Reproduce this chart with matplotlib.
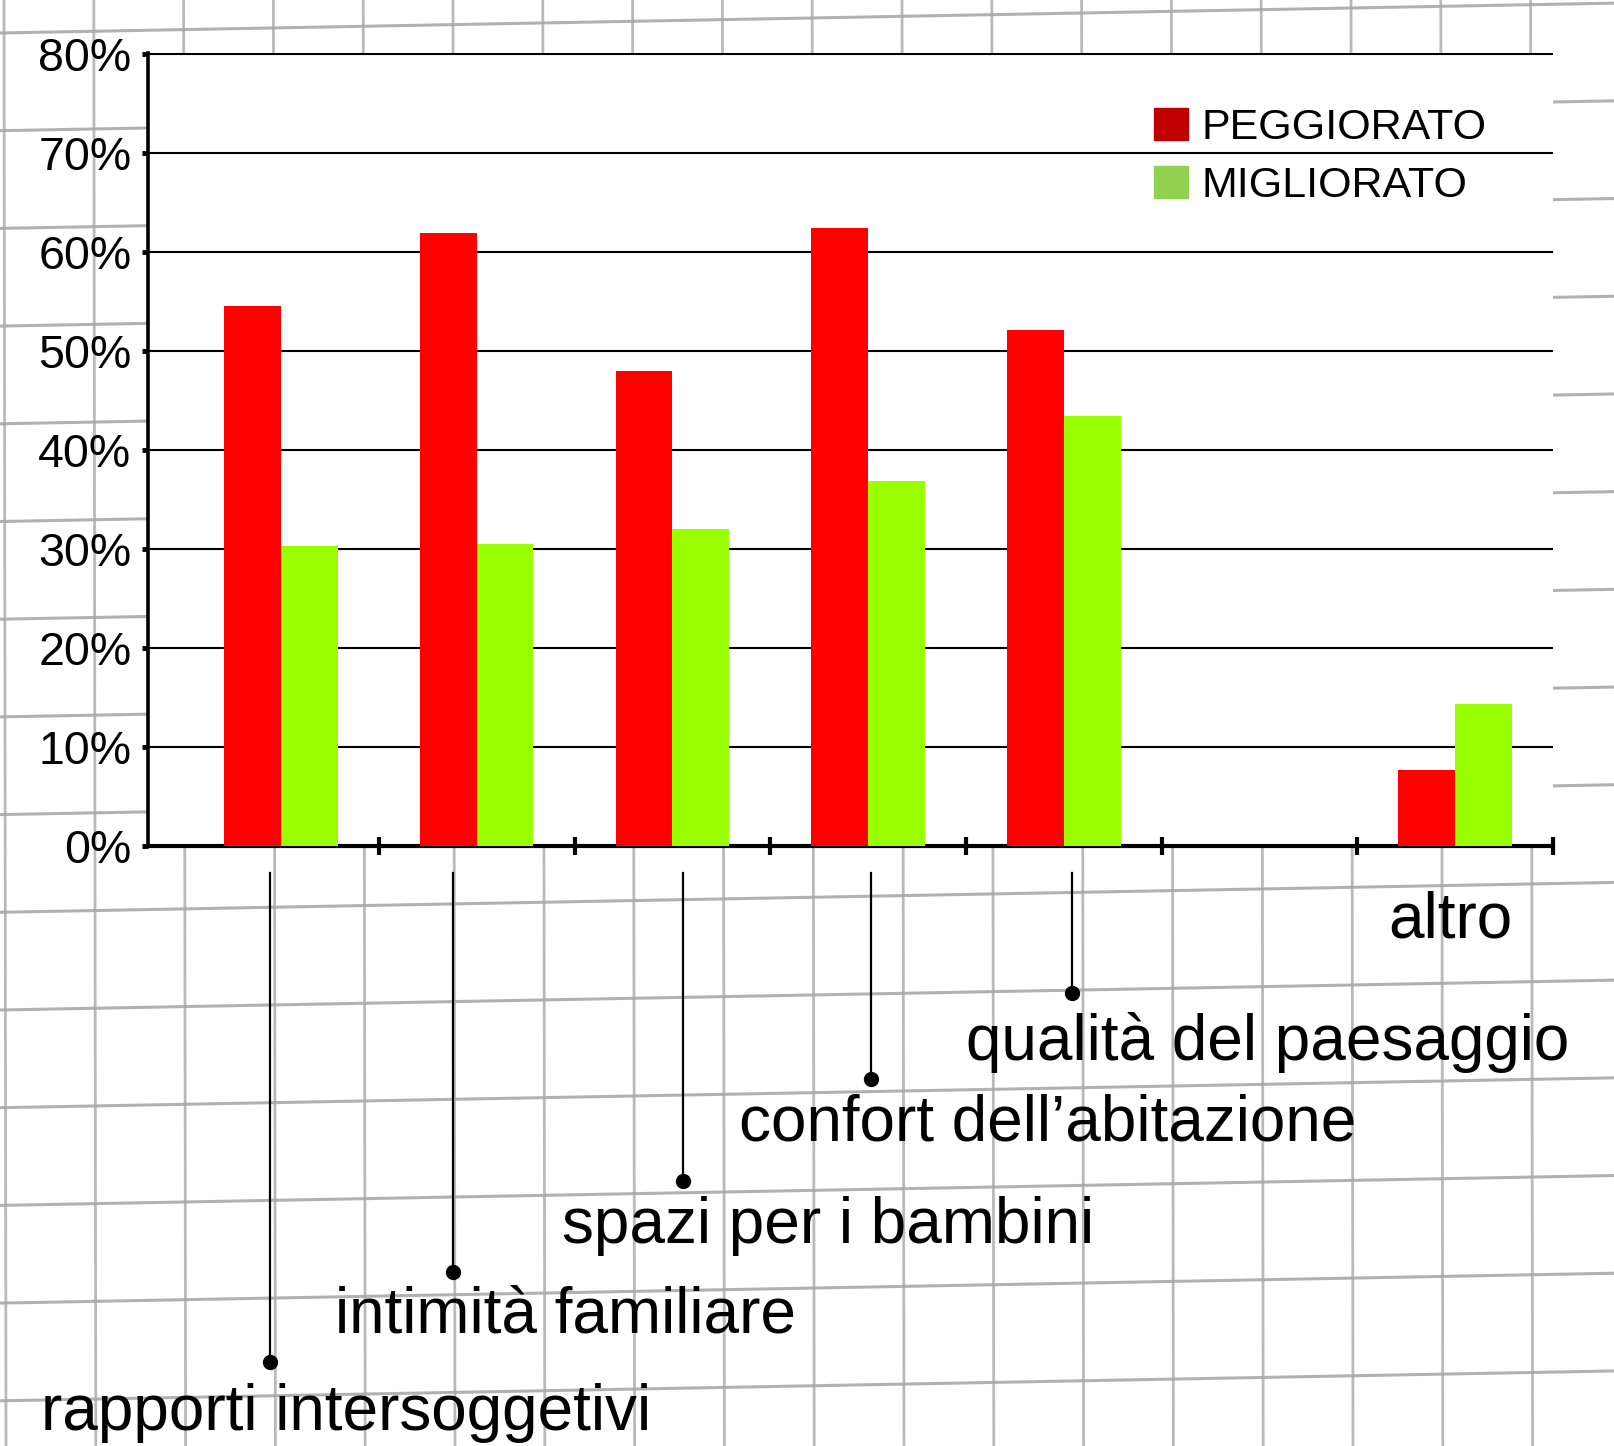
import matplotlib
matplotlib.use("Agg")
import matplotlib.pyplot as plt
from matplotlib.patches import Patch
import numpy as np

plt.rcParams['font.family'] = ['Liberation Sans', 'DejaVu Sans']

# dati
categorie = ["rapporti intersoggetivi", "intimità familiare", "spazi per i bambini",
             "confort dell\u2019abitazione", "qualità del paesaggio", "", "altro"]
peggiorato = [54.6, 62.0, 48.0, 62.5, 52.2, 0, 7.7]
migliorato = [30.3, 30.5, 32.0, 36.9, 43.5, 0, 14.4]
yticks = [0, 10, 20, 30, 40, 50, 60, 70, 80]

W, H = 1615, 1446
fig = plt.figure(figsize=(W / 100, H / 100), dpi=100)

# sfondo a quadretti
bg = fig.add_axes([0, 0, 1, 1])
bg.set_xlim(0, W)
bg.set_ylim(H, 0)
bg.axis('off')
xs = np.array([0, W])
for y0 in np.arange(33 - 97.7, H + 80, 97.7):
    bg.plot(xs, y0 - 0.0185 * xs, color='0.62', lw=2.2, alpha=0.8)
for x0 in np.arange(4, W - 60, 89.8):
    bg.plot([x0, x0 + 2], [0, H], color='0.66', lw=2.0, alpha=0.8)

# grafico
ax = fig.add_axes([148 / W, 1 - 846 / H, (1553 - 148) / W, (846 - 53) / H])
ax.set_facecolor('white')
x = np.arange(len(categorie))
w = 0.29
ax.bar(x - w / 2, peggiorato, w, color='#ff0000', zorder=3)
ax.bar(x + w / 2, migliorato, w, color='#99ff00', zorder=3)

ax.set_xlim(-0.68, 6.5)
ax.set_ylim(0, 80.15)
ax.set_yticks(yticks)
ax.set_yticklabels([f"{t}%" for t in yticks], fontsize=33.5)
ax.set_xticks(np.arange(len(categorie)) + 0.5)
ax.set_xticklabels([])
ax.yaxis.grid(True, color='black', lw=1.5)
ax.set_axisbelow(True)
for s in ['top', 'right']:
    ax.spines[s].set_visible(False)
ax.spines['left'].set_linewidth(2.6)
ax.spines['bottom'].set_linewidth(3)
ax.tick_params(axis='y', direction='out', length=4, width=3.5, pad=8)
ax.tick_params(axis='x', direction='inout', length=13, width=3)

ax.legend(handles=[Patch(color='#c00000', label='PEGGIORATO'),
                   Patch(color='#92d050', label='MIGLIORATO')],
          loc='upper left', bbox_to_anchor=(0.716, 0.931), frameon=False,
          fontsize=31, handlelength=0.78, handleheight=0.78,
          handletextpad=0.33, labelspacing=0.42, borderpad=0, borderaxespad=0)

# etichette sotto l'asse
scarto = [-0.058, -0.121, 0.053, 0.016, 0.042]
punti = [-52.2, -43.1, -33.9, -23.5, -14.9]
testo_y = [-57.3, -47.5, -38.4, -28.0, -19.9]
testo_x = [-1.226, 0.274, 1.437, 2.342, 3.5]
for i in range(5):
    xl = i + scarto[i]
    ax.plot([xl, xl], [-2.7, punti[i]], color='black', lw=1.6, clip_on=False)
    ax.plot(xl, punti[i], 'o', color='black', ms=10, clip_on=False)
    ax.text(testo_x[i], testo_y[i], categorie[i], fontsize=46, va='center', ha='left',
            clip_on=False)
ax.text(5.658, -7.5, categorie[6], fontsize=46, va='center', ha='left', clip_on=False)

fig.savefig("out.png", dpi=100)
